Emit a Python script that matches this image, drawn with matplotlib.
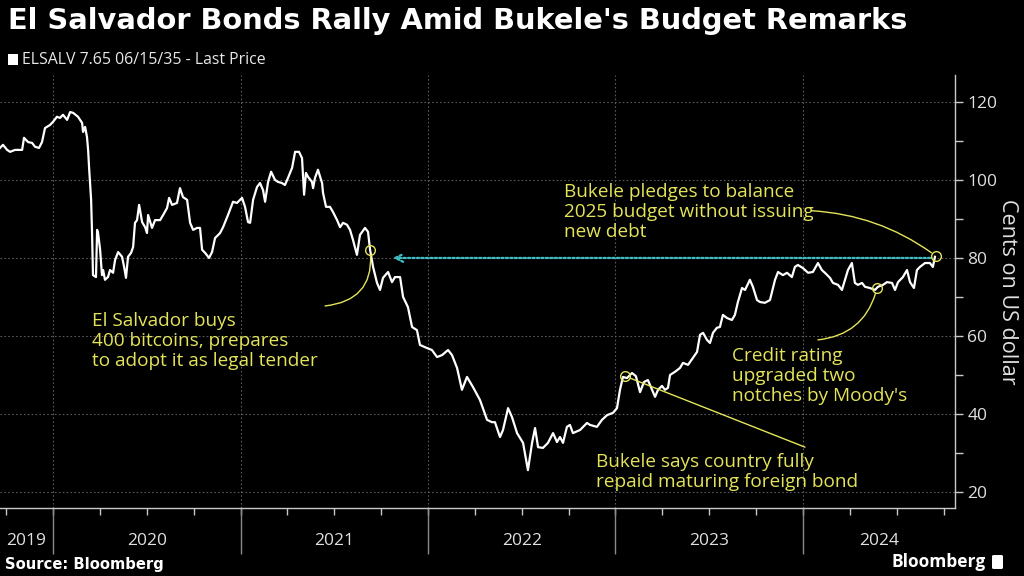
import matplotlib
matplotlib.use("Agg")
import matplotlib.pyplot as plt
from matplotlib.patches import Rectangle, FancyBboxPatch
from matplotlib.ticker import FixedLocator

# ---------------- data (decimal year, price in cents) ----------------
dates = [
    2019.717, 2019.733, 2019.755, 2019.771, 2019.797, 2019.835, 2019.845, 2019.867, 2019.888, 2019.904,
    2019.925, 2019.941, 2019.957, 2019.984, 2020.000, 2020.021, 2020.037, 2020.053, 2020.075, 2020.091,
    2020.107, 2020.133, 2020.155, 2020.160, 2020.171, 2020.181, 2020.187, 2020.192, 2020.203, 2020.208,
    2020.213, 2020.229, 2020.235, 2020.240, 2020.251, 2020.261, 2020.267, 2020.277, 2020.293, 2020.304,
    2020.320, 2020.331, 2020.347, 2020.368, 2020.379, 2020.389, 2020.400, 2020.416, 2020.427, 2020.437,
    2020.448, 2020.459, 2020.475, 2020.491, 2020.501, 2020.507, 2020.528, 2020.544, 2020.571, 2020.587,
    2020.608, 2020.619, 2020.635, 2020.661, 2020.677, 2020.693, 2020.715, 2020.731, 2020.747, 2020.768,
    2020.784, 2020.795, 2020.811, 2020.832, 2020.848, 2020.864, 2020.891, 2020.907, 2020.933, 2020.960,
    2020.981, 2021.008, 2021.024, 2021.040, 2021.051, 2021.067, 2021.088, 2021.104, 2021.120, 2021.131,
    2021.147, 2021.163, 2021.184, 2021.200, 2021.221, 2021.237, 2021.253, 2021.275, 2021.291, 2021.312,
    2021.328, 2021.339, 2021.349, 2021.360, 2021.381, 2021.387, 2021.397, 2021.413, 2021.435, 2021.440,
    2021.456, 2021.477, 2021.493, 2021.515, 2021.531, 2021.547, 2021.568, 2021.584, 2021.600, 2021.621,
    2021.637, 2021.664, 2021.680, 2021.691, 2021.707, 2021.728, 2021.744, 2021.760, 2021.787, 2021.808,
    2021.824, 2021.851, 2021.867, 2021.893, 2021.915, 2021.941, 2021.957, 2021.995, 2022.021, 2022.048,
    2022.075, 2022.107, 2022.128, 2022.155, 2022.181, 2022.208, 2022.240, 2022.277, 2022.315, 2022.341,
    2022.357, 2022.384, 2022.400, 2022.427, 2022.448, 2022.475, 2022.507, 2022.533, 2022.555, 2022.571,
    2022.587, 2022.613, 2022.640, 2022.667, 2022.688, 2022.704, 2022.720, 2022.741, 2022.757, 2022.773,
    2022.811, 2022.848, 2022.864, 2022.901, 2022.928, 2022.955, 2022.987, 2023.008, 2023.024, 2023.040,
    2023.061, 2023.088, 2023.109, 2023.131, 2023.152, 2023.173, 2023.195, 2023.211, 2023.227, 2023.248,
    2023.264, 2023.280, 2023.291, 2023.317, 2023.344, 2023.360, 2023.387, 2023.413, 2023.435, 2023.451,
    2023.467, 2023.488, 2023.504, 2023.520, 2023.541, 2023.557, 2023.573, 2023.595, 2023.621, 2023.637,
    2023.653, 2023.675, 2023.691, 2023.717, 2023.733, 2023.755, 2023.771, 2023.797, 2023.824, 2023.851,
    2023.867, 2023.893, 2023.915, 2023.941, 2023.957, 2023.973, 2024.000, 2024.027, 2024.053, 2024.080,
    2024.101, 2024.117, 2024.144, 2024.160, 2024.187, 2024.208, 2024.224, 2024.240, 2024.261, 2024.277,
    2024.293, 2024.315, 2024.331, 2024.357, 2024.384, 2024.400, 2024.427, 2024.448, 2024.475, 2024.491,
    2024.507, 2024.533, 2024.555, 2024.571, 2024.592, 2024.608, 2024.624, 2024.651, 2024.677, 2024.693,
    2024.704,
]
prices = [
    108.2, 109.0, 107.7, 107.2, 107.7, 107.7, 110.8, 109.7, 109.5, 108.5,
    108.2, 109.7, 113.3, 114.1, 114.9, 116.2, 115.9, 116.7, 115.4, 117.4,
    117.2, 116.2, 114.6, 112.3, 113.6, 111.0, 107.7, 103.3, 94.9, 86.4,
    75.6, 75.1, 87.2, 86.4, 82.1, 75.6, 76.9, 74.4, 75.1, 76.9,
    76.2, 79.5, 81.5, 80.3, 77.7, 74.9, 80.3, 81.3, 82.8, 89.0,
    89.7, 93.6, 89.2, 87.9, 86.4, 91.0, 87.7, 89.7, 89.7, 91.0,
    92.8, 95.4, 93.6, 94.1, 97.9, 95.6, 94.9, 89.0, 87.2, 87.7,
    87.7, 82.1, 81.3, 80.0, 81.5, 85.1, 86.4, 87.9, 91.0, 94.4,
    94.1, 95.4, 93.1, 89.2, 89.0, 94.9, 98.2, 99.2, 97.4, 94.4,
    99.5, 102.1, 100.0, 99.5, 99.2, 98.7, 100.5, 103.1, 107.2, 107.2,
    105.6, 96.2, 101.8, 100.8, 99.5, 97.9, 100.5, 102.6, 99.2, 96.7,
    93.1, 93.1, 91.8, 89.7, 87.9, 89.0, 88.5, 87.2, 84.6, 80.8,
    85.9, 87.7, 86.7, 82.1, 77.7, 73.6, 71.8, 74.9, 76.4, 73.8,
    75.1, 75.1, 70.0, 67.4, 62.3, 61.5, 57.7, 56.9, 56.4, 54.6,
    55.1, 56.4, 55.1, 51.8, 46.2, 49.5, 46.9, 43.6, 38.5, 37.9,
    37.9, 34.1, 35.9, 41.5, 39.2, 35.1, 32.6, 25.6, 32.6, 36.4,
    31.5, 31.3, 32.6, 35.1, 32.8, 34.1, 32.6, 36.7, 37.2, 35.1,
    35.9, 37.7, 37.2, 36.7, 38.5, 39.7, 40.3, 41.5, 46.2, 49.5,
    49.2, 50.5, 49.7, 45.6, 48.2, 48.7, 46.2, 44.4, 46.2, 47.2,
    46.2, 46.7, 50.0, 50.8, 51.8, 53.1, 52.6, 54.4, 55.9, 60.3,
    60.8, 59.0, 58.2, 60.8, 62.1, 62.3, 65.4, 64.6, 64.1, 65.4,
    68.7, 72.3, 71.8, 74.4, 72.6, 69.2, 68.7, 68.5, 69.2, 74.4,
    76.4, 75.6, 76.2, 75.1, 77.7, 78.2, 77.4, 76.2, 76.4, 78.7,
    76.9, 76.2, 74.9, 73.6, 73.1, 71.8, 74.4, 76.9, 78.7, 73.6,
    73.1, 73.6, 72.6, 72.3, 71.8, 72.6, 73.1, 73.8, 73.6, 71.8,
    73.8, 75.1, 76.9, 73.8, 72.3, 76.9, 77.7, 78.7, 78.7, 77.7,
    80.3,
]

year_labels = ["2019", "2020", "2021", "2022", "2023", "2024"]
year_starts = [2020, 2021, 2022, 2023, 2024]
y_major = [20, 40, 60, 80, 100, 120]
y_minor = [30, 50, 70, 90, 110]

event_texts = [
    "El Salvador buys\n400 bitcoins, prepares\nto adopt it as legal tender",
    "Bukele pledges to balance\n2025 budget without issuing\nnew debt",
    "Credit rating\nupgraded two\nnotches by Moody's",
    "Bukele says country fully\nrepaid maturing foreign bond",
]
event_dates = [2021.691, 2024.709, 2024.395, 2023.051]
event_values = [82.1, 80.5, 72.3, 49.7]
reference_level = 80.0

# ---------------- styling ----------------
BG = "black"
YELLOW = "#e4e45a"
CYAN = "#3fbcc4"
GRID = "#5a5a5a"
AX = "#c8c8c8"
FONT = "Open Sans"

W, H = 1024, 576
fig = plt.figure(figsize=(W / 100, H / 100), dpi=100, facecolor=BG)

x0, x1 = 2019.717, 2024.811
ax_left, ax_right, ax_top, ax_bot = 0, 955, 75, 508
ax = fig.add_axes([ax_left / W, 1 - ax_bot / H, (ax_right - ax_left) / W, (ax_bot - ax_top) / H])
ax.set_facecolor(BG)
ax.set_xlim(x0, x1)
ax.set_ylim(15.9, 126.9)

# spines
for s in ["left", "top"]:
    ax.spines[s].set_visible(False)
for s in ["right", "bottom"]:
    ax.spines[s].set_color(AX)
    ax.spines[s].set_linewidth(1.0)

# y axis on right
ax.yaxis.tick_right()
ax.yaxis.set_major_locator(FixedLocator(y_major))
ax.yaxis.set_minor_locator(FixedLocator(y_minor))
ax.tick_params(axis="y", which="both", direction="out", length=6, width=1, color=AX,
               labelcolor="#e0e0e0", labelsize=12.5, pad=3)
for lab in ax.get_yticklabels():
    lab.set_fontfamily(FONT)

# x axis quarterly ticks, no labels
quarters = [y + q for y in range(2019, 2025) for q in (0, 0.25, 0.5, 0.75) if x0 <= y + q <= x1]
ax.xaxis.set_major_locator(FixedLocator(quarters))
ax.set_xticklabels([])
ax.tick_params(axis="x", which="both", direction="out", length=5, width=1, color=AX)

# grid
ax.yaxis.grid(True, which="major", color=GRID, linestyle=(0, (1.5, 2)), linewidth=0.8)
ax.vlines(year_starts, 15.9, 126.9, colors=GRID, linestyles=(0, (1.5, 2)), linewidth=0.8)
ax.set_axisbelow(True)

# year separators below axis
ax.vlines(year_starts, -0.106, 0, transform=ax.get_xaxis_transform(), colors="#8a8a8a",
          linewidth=1, clip_on=False)

# year labels centred on visible span
bounds = [x0] + year_starts + [x1]
for i, lab in enumerate(year_labels):
    cx = (bounds[i] + bounds[i + 1]) / 2
    ax.text(cx, -0.076, lab, transform=ax.get_xaxis_transform(), ha="center", va="center",
            color="#e0e0e0", fontsize=12.5, family=FONT)

# price line
ax.plot(dates, prices, color="white", lw=1.6, solid_joinstyle="round", zorder=3)

# cyan reference arrow
ax.annotate("", xy=(2021.813, reference_level), xytext=(event_dates[1] - 0.03, reference_level),
            arrowprops=dict(arrowstyle="->", color=CYAN, lw=1.6, linestyle=(0, (1, 1)),
                            mutation_scale=14, shrinkA=0, shrinkB=0), zorder=2)

# event circles
ax.plot(event_dates, event_values, linestyle="none", marker="o", ms=7, mfc="none",
        mec=YELLOW, mew=1.0, zorder=5)

# annotation texts (left x, centre y in data)
text_pos = [(2020.208, 58.7), (2022.725, 91.8), (2023.621, 49.7), (2022.896, 25.1)]
conn_start = [(2021.451, 67.7), (2024.048, 92.1), (2024.080, 59.0), (2024.011, 31.5)]
conn_rad = [0.5, -0.15, 0.35, 0.0]
for txt, (tx, ty), (sx, sy), rad, ex, ev in zip(event_texts, text_pos, conn_start, conn_rad,
                                                 event_dates, event_values):
    ax.text(tx, ty, txt, ha="left", va="center", color=YELLOW, fontsize=13.7, family=FONT,
            linespacing=1.12, zorder=6)
    ax.annotate("", xy=(ex, ev), xytext=(sx, sy),
                arrowprops=dict(arrowstyle="-", color=YELLOW, lw=1.0,
                                connectionstyle=f"arc3,rad={rad}", shrinkA=0, shrinkB=4),
                zorder=4)

# y label
fig.text(1008 / W, 1 - 292 / H, "Cents on US dollar", rotation=270, ha="center", va="center",
         color="#e0e0e0", fontsize=15.5, family=FONT)

# title & legend
fig.text(8 / W, 1 - 21 / H, "El Salvador Bonds Rally Amid Bukele's Budget Remarks",
         ha="left", va="center", color="white", fontsize=20.8, fontweight="bold", family="DejaVu Sans")
fig.patches.append(Rectangle((8 / W, 1 - 65 / H), 10 / W, 11 / H, transform=fig.transFigure,
                             facecolor="white", edgecolor="none"))
fig.text(22 / W, 1 - 60 / H, "ELSALV 7.65 06/15/35 - Last Price", ha="left", va="center",
         color="#e8e8e8", fontsize=11.4, family=FONT)

# footer
fig.text(5 / W, 1 - 565 / H, "Source: Bloomberg", ha="left", va="center", color="white",
         fontsize=10.6, fontweight="bold", family="DejaVu Sans")
fig.text(986 / W, 1 - 562 / H, "Bloomberg", ha="right", va="center", color="white",
         fontsize=12.5, fontweight="bold", family=FONT)
fig.patches.append(FancyBboxPatch((992 / W, 1 - 569 / H), 11 / W, 14 / H,
                                  boxstyle="round,pad=0,rounding_size=0.002",
                                  transform=fig.transFigure, facecolor="white", edgecolor="none"))

fig.savefig("out.png", dpi=100, facecolor=BG)
